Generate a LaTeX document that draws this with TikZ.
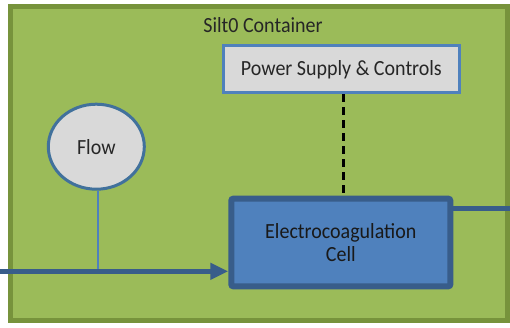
\documentclass[tikz,border=0pt]{standalone}
\usepackage{fontspec}
\usepackage{graphicx}
\setmainfont{Carlito}
\usetikzlibrary{shapes.geometric,arrows.meta,calc}
\definecolor{cfill}{HTML}{9BBB59}
\definecolor{cborder}{HTML}{77933C}
\definecolor{psfill}{HTML}{D9D9D9}
\definecolor{psborder}{HTML}{4F81BD}
\definecolor{ecfill}{HTML}{4F81BD}
\definecolor{ecborder}{HTML}{385D8A}
\definecolor{flowborder}{HTML}{41719C}
\definecolor{txt}{HTML}{262626}
\newcommand{\talltxt}[1]{\scalebox{1}[1.08]{#1}}
\tikzset{
  lbl/.style={font=\fontsize{20}{22}\selectfont, text=txt},
  container/.style={draw=cborder, fill=cfill, line width=5pt},
  psbox/.style={draw=psborder, fill=psfill, line width=3pt, inner sep=0pt},
  ecbox/.style={draw=ecborder, fill=ecfill, line width=6pt, rounded corners=2pt, inner sep=0pt, align=center, font=\fontsize{20}{22.5}\selectfont, text=black!90},
  flownode/.style={ellipse, draw=flowborder, fill=psfill, line width=3pt, inner sep=0pt},
  pipe/.style={draw=ecborder, line width=5pt},
  sensor/.style={draw=psborder, line width=2pt},
  ctrl/.style={draw=black, line width=2.5pt, dash pattern=on 8pt off 5pt},
}
\begin{document}
\begin{tikzpicture}[x=1pt,y=1pt]
\useasboundingbox (0,0) rectangle (510,327);
\draw[container] (10.5,320.5) rectangle (507.5,7);
\node[lbl] (title) at (263,302) {\talltxt{Silt0 Container}};
\node[psbox, lbl, minimum width=235.7pt, minimum height=47pt] (PS) at (341.4,257.7) {\talltxt{Power Supply \& Controls}};
\node[ecbox, minimum width=219pt, minimum height=87.6pt] (EC) at (340.8,84.5) {\talltxt{Electrocoagulation}\\\talltxt{Cell}};
\node[flownode, lbl, minimum width=96pt, minimum height=85pt] (FL) at (96.3,180.3) {\talltxt{Flow}};
\coordinate (inL) at (0,55.7);
\coordinate (tap) at (98.3,55.7);
\coordinate (outR) at (510,119);
\draw[ctrl] ([xshift=2pt]PS.south) -- ([xshift=2pt]PS.south |- EC.north);
\draw[sensor] (FL.south -| tap) -- (tap);
\draw[pipe, -{Triangle[length=18pt,width=16pt]}] (inL) -- (EC.west |- inL);
\draw[pipe] (EC.east |- outR) -- (outR);
\end{tikzpicture}
\end{document}
